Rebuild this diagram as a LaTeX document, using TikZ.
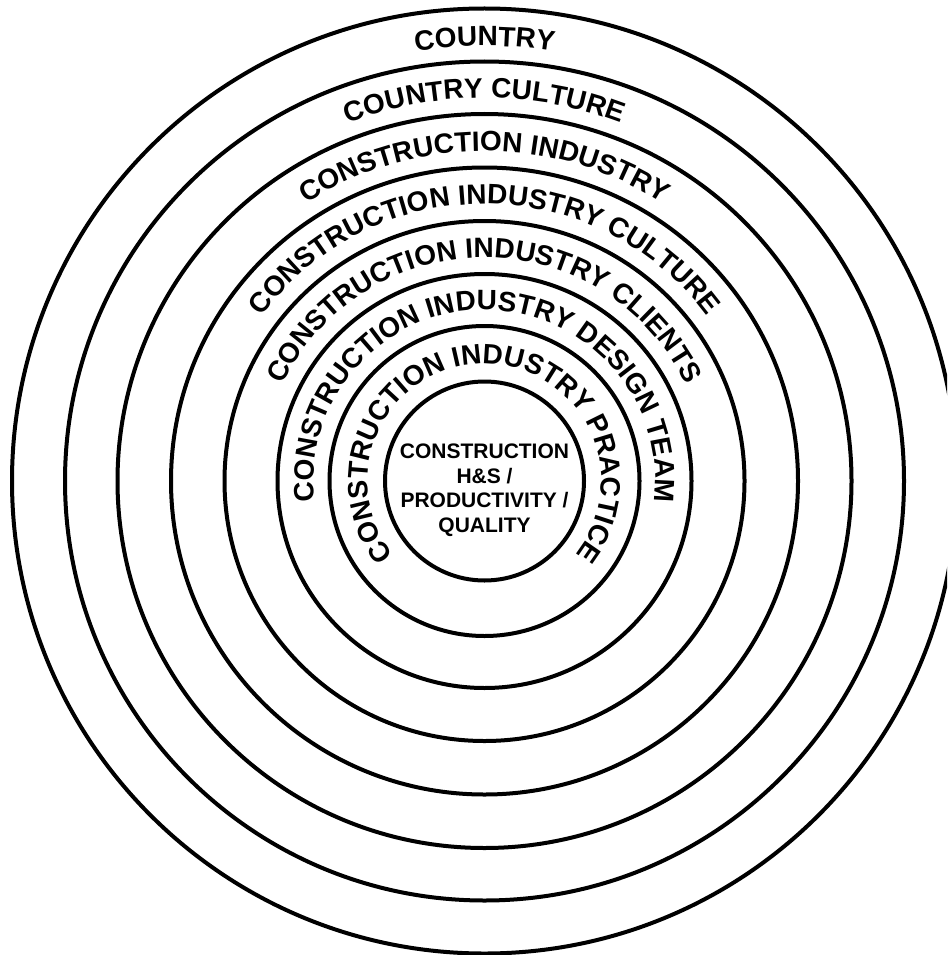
\documentclass[tikz,border=0pt]{standalone}
\usepackage{fontspec}
\setmainfont{Liberation Sans}
\usetikzlibrary{decorations.text}
\newcommand\ringfont{\fontsize{28}{28}\selectfont\bfseries}
\begin{document}
\begin{tikzpicture}[x=1pt,y=1pt,
  ring/.style={draw=black, line width=4pt},
  ringtext/.style={decorate, decoration={text along path, text align=center, text={|\ringfont|#1}}}]
\useasboundingbox (0,0) rectangle (947,-955);
\clip (0,0) rectangle (947,-955);
\coordinate (O) at (484.5,-481);
\foreach \r in {99.5,155,207,260,313.5,367,419.5,472.5}
  \draw[ring] (O) circle[radius=\r];
\path[ringtext={COUNTRY}] ([shift={(O)}]270:435) arc[start angle=270, end angle=-90, radius=435];
\path[ringtext={COUNTRY CULTURE}] ([shift={(O)}]270:383) arc[start angle=270, end angle=-90, radius=383];
\path[ringtext={CONSTRUCTION INDUSTRY}] ([shift={(O)}]270:330) arc[start angle=270, end angle=-90, radius=330];
\path[ringtext={CONSTRUCTION INDUSTRY CULTURE}] ([shift={(O)}]270:277) arc[start angle=270, end angle=-90, radius=277];
\path[ringtext={CONSTRUCTION INDUSTRY CLIENTS}] ([shift={(O)}]270:223.5) arc[start angle=270, end angle=-90, radius=223.5];
\path[ringtext={CONSTRUCTION INDUSTRY DESIGN TEAM}] ([shift={(O)}]270:171) arc[start angle=270, end angle=-90, radius=171];
\path[ringtext={CONSTRUCTION INDUSTRY PRACTICE}] ([shift={(O)}]270:117) arc[start angle=270, end angle=-90, radius=117];
\node[align=center, font=\fontsize{21}{24.5}\selectfont\bfseries] (core) at (484.5,-490)
  {CONSTRUCTION\\H\&S /\\PRODUCTIVITY /\\QUALITY};
\end{tikzpicture}
\end{document}
